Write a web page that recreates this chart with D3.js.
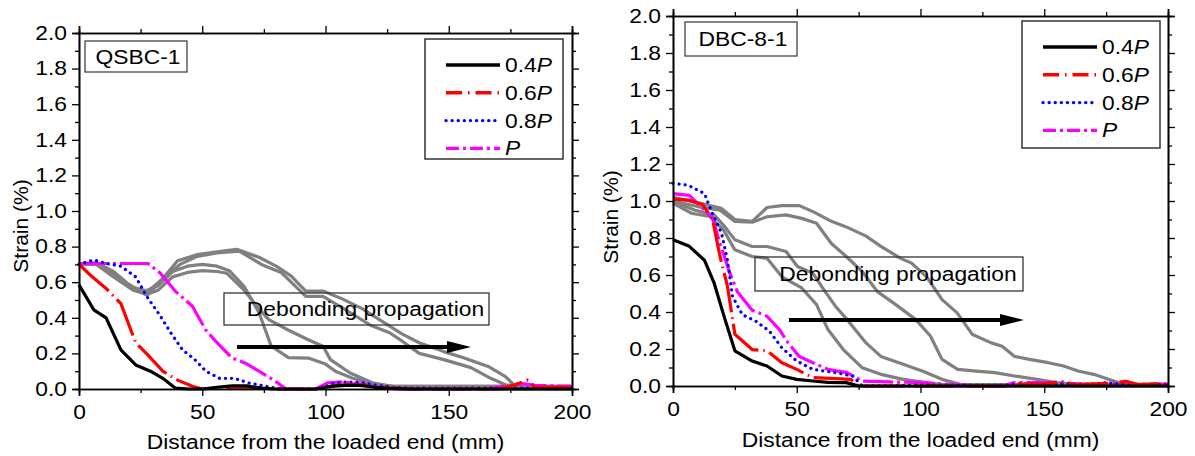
<!DOCTYPE html>
<html>
<head>
<meta charset="utf-8">
<script src="https://cdn.jsdelivr.net/npm/d3@7"></script>
<style>
  body { margin: 0; background: #fff; }
  svg { font-family: "Liberation Sans", Arial, sans-serif; }
</style>
</head>
<body>
<svg id="chart" width="1195" height="456"></svg>
<script>
// ---- data ----
let xTicks = [0, 50, 100, 150, 200];
let yTicks = [0, 0.2, 0.4, 0.6, 0.8, 1.0, 1.2, 1.4, 1.6, 1.8, 2.0];
let loadNames = ["0.4", "0.6", "0.8", ""];   // suffixed with italic P

// QSBC-1
let qsbc_04P = [[0,0.585],[6,0.445],[11,0.40],[17,0.22],[23,0.135],[29,0.10],[34,0.06],[39,0.005],[45,0],[50,0],[56,0.01],[62,0.018],[68,0.018],[74,0.005],[80,0],[96,0],[102,0.015],[108,0.02],[114,0.02],[120,0.01],[126,0.003],[135,0],[200,0]];
let qsbc_06P = [[0,0.70],[5,0.635],[11,0.565],[17,0.48],[23,0.26],[28,0.19],[34,0.10],[40,0.05],[46,0.015],[50,0],[56,0.005],[62,0.01],[68,0.01],[74,0.003],[80,0],[98,0],[104,0.02],[110,0.025],[116,0.02],[122,0.01],[130,0.003],[136,0],[170,0],[176,0.02],[182,0.05],[185,0.01],[190,0.01],[200,0.01]];
let qsbc_08P = [[0,0.70],[6,0.725],[11,0.705],[17,0.69],[23,0.63],[27.5,0.52],[33,0.41],[37.5,0.31],[42,0.22],[47,0.165],[51.5,0.10],[57,0.06],[63,0.06],[68.5,0.035],[76,0.015],[82,0],[98,0],[103,0.03],[109,0.04],[115,0.035],[121,0.02],[127,0.01],[135,0.005],[200,0.005]];
let qsbc_P = [[0,0.705],[14,0.705],[28,0.705],[33,0.65],[39,0.55],[46,0.465],[51.5,0.33],[56,0.26],[62,0.175],[67.5,0.145],[73,0.10],[79,0.05],[84,0],[96,0],[101,0.035],[107,0.04],[116,0.025],[122,0.005],[130,0],[165,0],[172,0.015],[180,0.03],[185,0.02],[200,0.015]];
let qsbc_grey1 = [[0,0.70],[6.6,0.705],[14,0.64],[22,0.57],[28,0.55],[34,0.62],[40,0.72],[48,0.755],[56,0.77],[64,0.785],[73,0.74],[80,0.69],[86,0.636],[92,0.55],[99,0.55],[107,0.505],[115,0.45],[123,0.38],[131,0.31],[138,0.26],[148,0.21],[156,0.176],[166,0.127],[173,0.07],[177,0.015],[185,0.012],[200,0.012]];
let qsbc_grey2 = [[0,0.70],[7,0.70],[14,0.63],[22,0.555],[28,0.53],[34,0.62],[41,0.70],[48,0.745],[56,0.765],[65,0.775],[74,0.70],[82,0.655],[92,0.52],[99,0.52],[107,0.455],[118,0.36],[126,0.316],[131,0.27],[138,0.20],[148,0.165],[159,0.12],[167,0.06],[173,0.024],[180,0.012],[200,0.012]];
let qsbc_grey3 = [[0,0.70],[7,0.705],[14,0.65],[20,0.575],[26,0.545],[32,0.58],[38,0.66],[44,0.69],[50,0.70],[56,0.69],[61,0.665],[67,0.575],[73,0.43],[78,0.24],[85,0.176],[93,0.174],[100,0.14],[104,0.10],[111,0.06],[120,0.025],[128,0.015],[200,0.015]];
let qsbc_grey4 = [[0,0.70],[7,0.71],[14,0.66],[20,0.59],[27,0.53],[32,0.555],[38,0.63],[44,0.655],[50,0.665],[56,0.66],[60,0.65],[67,0.555],[73,0.45],[77,0.39],[85,0.33],[93,0.277],[99,0.24],[102,0.165],[110,0.09],[119,0.035],[127,0.015],[200,0.015]];

// DBC-8-1
let dbc_04P = [[0,0.79],[6.6,0.755],[12.7,0.68],[16.6,0.557],[21,0.36],[25,0.19],[32,0.135],[38,0.108],[44,0.054],[50,0.036],[56.5,0.027],[62.6,0.02],[70,0.018],[75,0],[200,0]];
let dbc_06P = [[0,1.01],[6,1.005],[12,0.98],[16,0.90],[19,0.70],[22,0.54],[25,0.28],[32,0.197],[38,0.19],[44,0.126],[50,0.09],[56.5,0.045],[65.7,0.04],[71.8,0.036],[75,0],[135,0],[140,0.01],[150,0.01],[157,0.025],[162,0.008],[170,0.012],[177,0.015],[183,0.025],[188,0.008],[195,0.012],[200,0.012]];
let dbc_08P = [[0,1.095],[6,1.086],[12.7,1.04],[16,0.93],[19.6,0.826],[22,0.68],[24,0.485],[28,0.386],[33.5,0.35],[39,0.296],[44,0.206],[50,0.135],[56.5,0.09],[65.7,0.072],[72.6,0.054],[76.5,0],[100,0.005],[135,0.005],[140,0.012],[170,0.012],[175,0.018],[182,0.008],[200,0.008]];
let dbc_P = [[0,1.04],[6.6,1.03],[12,0.96],[16,0.907],[19,0.77],[23,0.61],[26,0.51],[32,0.41],[38,0.377],[43,0.305],[46.5,0.233],[51,0.16],[56.5,0.126],[62.6,0.09],[70.3,0.072],[76.4,0.027],[87,0.022],[101,0.018],[109,0.01],[120,0.003],[133,0],[138,0.018],[155,0.018],[170,0.005],[185,0.008],[200,0.01]];
let dbc_grey1 = [[0,1.02],[10.4,0.99],[19.6,0.96],[25,0.90],[32,0.89],[38,0.965],[44,0.975],[51,0.975],[57,0.94],[64,0.89],[70,0.86],[78,0.81],[84,0.755],[92,0.69],[96.4,0.664],[102.5,0.59],[108.7,0.467],[114.8,0.395],[121,0.278],[128.6,0.233],[133,0.215],[138,0.16],[144,0.144],[151.6,0.126],[157.8,0.108],[164,0.08],[170,0.063],[176,0.036],[182,0.009],[200,0.009]];
let dbc_grey2 = [[0,1.0],[10,0.97],[19,0.95],[25,0.89],[32,0.885],[38,0.915],[45.7,0.925],[52,0.906],[58,0.88],[64,0.77],[70,0.70],[76.4,0.62],[82.6,0.51],[90,0.44],[98,0.36],[104,0.27],[108.7,0.144],[115,0.09],[122.5,0.08],[130,0.072],[138,0.054],[147,0.036],[155,0.018],[164,0.009],[200,0.008]];
let dbc_grey3 = [[0,0.996],[9,0.95],[16.6,0.925],[21,0.86],[25,0.79],[32,0.754],[38,0.754],[45.7,0.727],[50.3,0.646],[56.5,0.61],[61,0.52],[65.7,0.43],[70.3,0.36],[78,0.233],[84,0.16],[93,0.117],[101,0.08],[108.7,0.036],[116,0.009],[200,0.006]];
let dbc_grey4 = [[0,0.987],[7.4,0.934],[15,0.916],[20.4,0.844],[25,0.736],[32,0.70],[38,0.69],[44,0.59],[52,0.53],[58,0.44],[62.6,0.305],[68.8,0.197],[76.4,0.099],[84,0.063],[93,0.036],[102.5,0.018],[111.7,0.003],[200,0.003]];

// ---- styles ----
let styles = [
  {color: "#000000", dash: null, legendDash: null, cap: "butt"},
  {color: "#ff0000", dash: "40,5,1.5,5", legendDash: "16,6,1.5,6", cap: "butt"},
  {color: "#0000ff", dash: "0.1,6", legendDash: "0.1,6", cap: "round"},
  {color: "#ff00ff", dash: "30,4,3,4", legendDash: "13,4,3,4", cap: "butt"}
];
let greyColor = "#808080";
const fs = 19.5;        // text in the reference is horizontally stretched
const stretchK = 1.17;

const svg = d3.select("#chart");

function draw(cfg) {
  const x = d3.scaleLinear().domain([0, 200]).range([cfg.left, cfg.right]);
  const y = d3.scaleLinear().domain([0, 2]).range([cfg.bottom, cfg.top]);
  const g = svg.append("g");

  const line = d3.line().x(d => x(d[0])).y(d => y(d[1]));

  // grey curves
  cfg.greys.forEach(s => {
    g.append("path").attr("d", line(s)).attr("fill", "none")
      .attr("stroke", greyColor).attr("stroke-width", 3.2).attr("stroke-linejoin", "round");
  });
  // load curves (P first so black sits on top)
  cfg.series.map((s, i) => ({s, i})).reverse().forEach(({s, i}) => {
    const st = styles[i];
    g.append("path").attr("d", line(s)).attr("fill", "none")
      .attr("stroke", st.color).attr("stroke-width", 3.2)
      .attr("stroke-dasharray", st.dash).attr("stroke-linecap", st.cap)
      .attr("stroke-linejoin", "round");
  });

  // axes: bottom / left with labels, top / right mirrored
  const bottomAxis = d3.axisBottom(x).tickValues(xTicks).tickSize(7).tickPadding(6).tickFormat(d3.format("d"));
  const leftAxis = d3.axisLeft(y).tickValues(yTicks).tickSize(7).tickPadding(5).tickFormat(d3.format(".1f"));
  const minorX = d3.range(25, 200, 50);
  const minorY = d3.range(0.1, 2, 0.2);

  const gb = g.append("g").attr("transform", `translate(0,${cfg.bottom})`).call(bottomAxis);
  g.append("g").attr("transform", `translate(${cfg.left},0)`).call(leftAxis);
  g.append("g").attr("transform", `translate(0,${cfg.top})`)
    .call(d3.axisTop(x).tickValues(xTicks).tickSize(7).tickFormat(""));
  g.append("g").attr("transform", `translate(${cfg.right},0)`)
    .call(d3.axisRight(y).tickValues(yTicks).tickSize(7).tickFormat(""));
  g.append("g").attr("transform", `translate(0,${cfg.bottom})`)
    .call(d3.axisBottom(x).tickValues(minorX).tickSize(4).tickFormat(""));
  g.append("g").attr("transform", `translate(0,${cfg.top})`)
    .call(d3.axisTop(x).tickValues(minorX).tickSize(4).tickFormat(""));
  g.append("g").attr("transform", `translate(${cfg.left},0)`)
    .call(d3.axisLeft(y).tickValues(minorY).tickSize(4).tickFormat(""));
  g.append("g").attr("transform", `translate(${cfg.right},0)`)
    .call(d3.axisRight(y).tickValues(minorY).tickSize(4).tickFormat(""));

  g.selectAll(".domain").attr("stroke", "#000").attr("stroke-width", 1.6);
  g.selectAll(".tick line").attr("stroke", "#000").attr("stroke-width", 1.3);
  g.selectAll(".tick text").attr("font-size", fs).attr("fill", "#000")
    .attr("font-family", "Liberation Sans, Arial, sans-serif").classed("stretch", true);
  gb.selectAll(".tick text").attr("dy", "0.85em");

  // axis titles
  g.append("text")
    .attr("transform", `translate(${cfg.ytx},${cfg.yty}) rotate(-90)`)
    .attr("text-anchor", "middle").attr("font-size", 21).text("Strain (%)");
  g.append("text").classed("stretch", true)
    .attr("x", (cfg.left + cfg.right) / 2 + cfg.xtdx).attr("y", cfg.xty)
    .attr("text-anchor", "middle").attr("font-size", fs)
    .text("Distance from the loaded end (mm)");

  // specimen label box
  const lb = cfg.labelBox;
  g.append("rect").attr("x", lb[0]).attr("y", lb[1]).attr("width", lb[2]).attr("height", lb[3])
    .attr("fill", "#fff").attr("stroke", "#444").attr("stroke-width", 1.3);
  g.append("text").classed("stretch", true)
    .attr("x", lb[0] + lb[2] / 2 + 2).attr("y", lb[1] + lb[3] / 2 + 7)
    .attr("text-anchor", "middle").attr("font-size", fs).text(cfg.name);

  // legend
  const lg = cfg.legend;
  g.append("rect").attr("x", lg[0]).attr("y", lg[1]).attr("width", lg[2]).attr("height", lg[3])
    .attr("fill", "#fff").attr("stroke", "#333").attr("stroke-width", 1.5);
  loadNames.forEach((nm, i) => {
    const yy = lg[1] + 26 + i * 27.8;
    const st = styles[i];
    g.append("line").attr("x1", lg[0] + 21).attr("x2", lg[0] + 75).attr("y1", yy).attr("y2", yy)
      .attr("stroke", st.color).attr("stroke-width", 3.4)
      .attr("stroke-dasharray", st.legendDash).attr("stroke-linecap", st.cap);
    const t = g.append("text").classed("stretch", true)
      .attr("x", lg[0] + 80).attr("y", yy + 7).attr("font-size", fs);
    t.append("tspan").text(nm);
    t.append("tspan").attr("font-style", "italic").text("P");
  });

  // debonding annotation
  const db = cfg.debond;
  g.append("rect").attr("x", db[0]).attr("y", db[1]).attr("width", db[2]).attr("height", db[3])
    .attr("fill", "none").attr("stroke", "#333").attr("stroke-width", 1.3);
  g.append("text").classed("stretch", true)
    .attr("x", db[0] + db[2] / 2 + 9).attr("y", db[1] + db[3] / 2 + 7)
    .attr("text-anchor", "middle").attr("font-size", fs).text("Debonding propagation");
  const ar = cfg.arrow;
  g.append("line").attr("x1", ar[0]).attr("x2", ar[1] - 20).attr("y1", ar[2]).attr("y2", ar[2])
    .attr("stroke", "#000").attr("stroke-width", 4);
  g.append("path")
    .attr("d", `M${ar[1] - 24},${ar[2] - 6} L${ar[1]},${ar[2]} L${ar[1] - 24},${ar[2] + 6} Z`)
    .attr("fill", "#000");
}

draw({
  name: "QSBC-1",
  left: 79, right: 572, top: 33, bottom: 389,
  series: [qsbc_04P, qsbc_06P, qsbc_08P, qsbc_P],
  greys: [qsbc_grey1, qsbc_grey2, qsbc_grey3, qsbc_grey4],
  ytx: 28, yty: 226, xtdx: 0, xty: 449,
  labelBox: [85, 41, 102, 31],
  legend: [425, 39, 138, 120],
  debond: [224, 293, 265, 32],
  arrow: [237, 471, 347]
});

draw({
  name: "DBC-8-1",
  left: 673, right: 1168, top: 16, bottom: 386,
  series: [dbc_04P, dbc_06P, dbc_08P, dbc_P],
  greys: [dbc_grey1, dbc_grey2, dbc_grey3, dbc_grey4],
  ytx: 618, yty: 217, xtdx: 0, xty: 447,
  labelBox: [685, 22, 112, 34],
  legend: [1022, 21, 138, 127],
  debond: [755, 257, 268, 34],
  arrow: [789, 1024, 320]
});

// widen the text like the reference picture
svg.selectAll("text.stretch").each(function() {
  const len = this.getComputedTextLength();
  d3.select(this).attr("textLength", len * stretchK).attr("lengthAdjust", "spacingAndGlyphs");
});
</script>
</body>
</html>
